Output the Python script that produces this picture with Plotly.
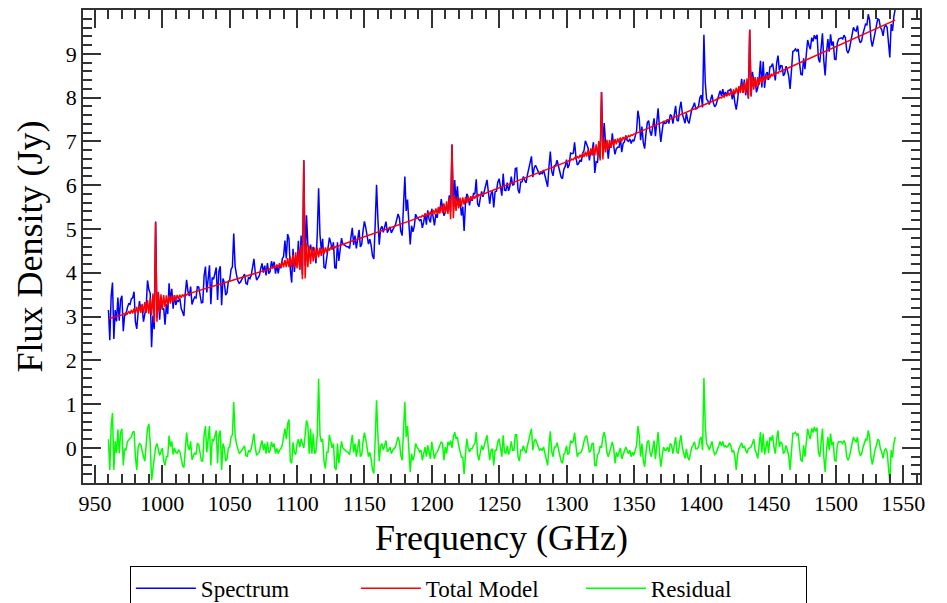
import numpy as np
import plotly.graph_objects as go

# ---------------- data ----------------
# Residual (Jy), sampled every 1 GHz, in four consecutive segments
res_start = [960, 1106, 1254, 1403]
res_seg1 = [
    0.2, -0.5, 0.5, 0.8, -0.5, 0.15, -0.12, 0.42, -0.12, 0.35,
    0.44, -0.4, -0.02, -0.05, 0.14, 0.17, 0.21, 0.25, 0.36, 0.38,
    -0.2, -0.5, 0.0, 0.1, 0.08, -0.08, -0.2, -0.3, 0.15, 0.45,
    0.55, 0.1, -0.74, -0.5, -0.15, 0.02, 0.1, -0.05, -0.17, -0.08,
    0.0, -0.3, -0.4, -0.2, -0.2, 0.28, 0.03, 0.15, -0.15, 0.0,
    -0.1, -0.12, -0.05, -0.08, -0.25, -0.4, -0.45, 0.0, 0.35, 0.05,
    -0.05, 0.15, -0.27, -0.18, -0.12, -0.15, 0.1, 0.08, -0.1, -0.3,
    -0.3, 0.3, 0.5, -0.1, 0.2, 0.5, -0.4, 0.2, 0.15, 0.3,
    0.4, -0.35, 0.3, 0.4, -0.5, 0.1, 0.0, -0.3, -0.25, 0.0,
    0.02, 0.25, 0.3, 1.05, 0.3, 0.1, -0.05, -0.12, -0.1, -0.05,
    0.02, 0.05, -0.17, -0.2, -0.05, -0.09, -0.02, 0.17, 0.33, 0.0,
    -0.17, -0.13, -0.09, 0.06, 0.17, -0.05, 0.1, -0.13, 0.14, -0.11,
    -0.06, 0.14, 0.02, 0.1, -0.13, -0.01, -0.13, -0.05, -0.02, 0.06,
    0.25, 0.44, 0.2, 0.55, 0.65, -0.3, -0.35, 0.13, -0.1, -0.15,
    0.1, 0.2, 0.02, 0.21, 0.1, 0.0,
]
res_seg2 = [
    0.29, 0.63, 0.52, -0.13, 0.44, -0.13, 0.33, -0.13, -0.09, 0.3,
    1.58, 0.3, 0.14, 0.2, -0.3, -0.47, -0.1, -0.1, 0.3, 0.1,
    0.0, 0.1, -0.45, -0.5, 0.1, -0.35, -0.1, 0.15, 0.0, -0.02,
    -0.06, -0.09, -0.1, -0.15, 0.1, 0.3, -0.1, 0.1, -0.2, 0.05,
    0.2, -0.2, -0.15, 0.15, 0.35, 0.2, -0.02, -0.2, -0.1, -0.25,
    -0.5, -0.58, 0.2, 1.09, 0.3, -0.3, 0.05, 0.1, -0.05, 0.06,
    0.17, -0.09, -0.05, 0.02, -0.13, -0.05, -0.02, 0.02, 0.14, 0.25,
    0.14, -0.17, -0.28, 0.5, 1.05, 0.25, 0.5, -0.05, -0.55, -0.13,
    -0.28, -0.17, 0.1, 0.02, -0.02, -0.09, -0.05, -0.28, -0.13, 0.02,
    -0.2, 0.06, -0.09, -0.25, 0.14, -0.13, -0.25, -0.13, -0.09, -0.02,
    0.06, 0.14, 0.1, -0.28, 0.02, -0.13, 0.14, 0.06, 0.17, 0.0,
    0.25, 0.36, 0.21, 0.25, 0.06, -0.09, -0.21, -0.21, -0.6, -0.15,
    0.21, 0.0, -0.09, -0.02, -0.02, 0.06, 0.1, 0.36, -0.15, -0.28,
    -0.05, 0.06, -0.05, 0.06, 0.14, 0.29, 0.0, -0.28, -0.05, -0.02,
    -0.4, -0.05, -0.05, 0.14, 0.21, -0.05, -0.2, 0.29,
]
res_seg3 = [
    -0.1, -0.12, 0.05, -0.15, -0.05, 0.15, -0.05, -0.05, 0.3, 0.3,
    -0.2, -0.3, -0.05, -0.06, 0.05, -0.05, -0.12, 0.05, 0.2, 0.3,
    0.44, -0.05, 0.15, 0.2, 0.1, 0.02, -0.05, -0.02, -0.05, 0.02,
    -0.1, -0.25, -0.4, 0.05, 0.38, -0.08, -0.2, 0.02, 0.02, 0.12,
    -0.05, -0.17, -0.3, -0.35, -0.15, -0.1, 0.05, -0.15, -0.1, 0.17,
    0.12, 0.15, 0.35, 0.05, -0.2, -0.12, -0.12, -0.09, 0.0, 0.15,
    0.25, 0.28, 0.05, -0.1, -0.05, 0.1, 0.1, -0.4, -0.4, -0.15,
    -0.12, 0.05, 0.0, 0.25, 0.36, 0.2, -0.1, -0.2, -0.1, 0.0,
    0.14, 0.0, -0.35, -0.1, -0.2, -0.1, 0.0, -0.25, -0.15, -0.05,
    0.02, -0.05, -0.13, -0.05, -0.2, -0.1, -0.17, -0.05, 0.05, 0.5,
    0.3, -0.2, 0.1, -0.28, -0.43, -0.1, 0.14, 0.17, -0.09, -0.2,
    -0.02, 0.17, -0.25, 0.14, 0.36, -0.09, -0.43, -0.2, 0.02, -0.05,
    -0.05, 0.02, -0.09, 0.1, 0.06, -0.13, 0.06, 0.25, -0.09, -0.13,
    0.14, 0.29, 0.0, -0.13, -0.24, -0.02, -0.21, -0.28, -0.09, 0.02,
    0.06, 0.14, -0.02, -0.02, 0.02, 0.2, 0.25, -0.05, 1.6,
]
res_seg4 = [
    0.5, 0.1, 0.05, -0.05, 0.05, 0.15, -0.05, -0.15, -0.12, -0.05,
    0.05, 0.15, 0.05, 0.15, 0.02, 0.05, 0.02, 0.05, 0.12, 0.05,
    -0.1, -0.05, -0.2, -0.5, -0.15, -0.02, 0.05, 0.12, 0.0, 0.05,
    -0.05, -0.12, -0.02, 0.0, 0.02, 0.1, 0.2, -0.05, -0.12, -0.24,
    0.15, 0.36, -0.1, 0.33, -0.15, 0.02, 0.17, -0.12, 0.25, 0.17,
    0.29, 0.02, -0.13, 0.21, 0.4, 0.02, 0.14, 0.1, -0.13, -0.09,
    0.06, -0.05, -0.2, -0.5, -0.1, 0.33, 0.33, 0.36, 0.29, 0.33,
    0.0, -0.28, -0.3, 0.06, -0.2, 0.13, 0.44, 0.3, 0.2, 0.45,
    0.35, 0.48, 0.38, 0.46, -0.1, -0.2, 0.2, 0.44, -0.2, -0.55,
    -0.05, 0.25, -0.05, 0.33, 0.06, 0.14, -0.28, -0.3, 0.06, 0.14,
    0.14, 0.14, 0.1, 0.17, 0.1, -0.2, -0.28, -0.2, -0.05, 0.1,
    0.25, 0.17, 0.14, 0.25, -0.05, -0.17, -0.15, 0.0, 0.1, 0.2,
    0.17, 0.4, 0.25, -0.2, -0.38, -0.2, -0.05, 0.05, 0.2, 0.17,
    -0.02, -0.09, -0.24, -0.05, -0.02, -0.09, -0.45, -0.8, -0.05, -0.22,
    0.1, 0.25,
]

# Continuum of the total model (GHz, Jy)
cont_freq = [960, 1000, 1040, 1080, 1120, 1160, 1200, 1240, 1280, 1320,
             1360, 1400, 1440, 1480, 1520, 1544]
cont_flux = [2.95, 3.33, 3.72, 4.10, 4.50, 4.93, 5.37, 5.82, 6.29, 6.78,
             7.29, 7.81, 8.34, 8.89, 9.45, 9.77]

# Fitted lines: centre (GHz) and peak of the model (Jy)
line_freq = [995, 1105, 1215, 1326, 1436]
line_peak = [5.15, 6.57, 6.93, 8.13, 9.55]

# Normalised sinc-like line profile (offsets -25 ... +25 GHz, 1 GHz steps)
ring_profile = [
    -0.004, 0.006, -0.008, 0.010, -0.013, 0.016, -0.019, 0.022, -0.026, 0.030,
    -0.034, 0.038, -0.042, 0.046, -0.050, 0.055, -0.060, 0.066, -0.072, 0.080,
    -0.090, 0.100, -0.115, 0.140, -0.220,
    1.000,
    -0.220, 0.140, -0.115, 0.100, -0.090, 0.080, -0.072, 0.066, -0.060, 0.055,
    -0.050, 0.046, -0.042, 0.038, -0.034, 0.030, -0.026, 0.022, -0.019, 0.016,
    -0.013, 0.010, -0.008, 0.006, -0.004,
]

x_ticks = [950, 1000, 1050, 1100, 1150, 1200, 1250, 1300, 1350, 1400, 1450, 1500, 1550]
y_ticks = [0, 1, 2, 3, 4, 5, 6, 7, 8, 9]

# ---------------- assemble series ----------------
freq, residual = [], []
for s, seg in zip(res_start, [res_seg1, res_seg2, res_seg3, res_seg4]):
    freq += [s + i for i in range(len(seg))]
    residual += seg
freq = np.array(freq, dtype=float)
residual = np.array(residual, dtype=float)

model = np.interp(freq, cont_freq, cont_flux)
half = len(ring_profile) // 2
for f0, pk in zip(line_freq, line_peak):
    amp = pk - np.interp(f0, cont_freq, cont_flux)
    for j, p in enumerate(ring_profile):
        model[freq == f0 + j - half] += amp * p
spectrum = model + residual

SERIF = "Liberation Serif"
AX = "#333333"

fig = go.Figure()
fig.add_trace(go.Scatter(x=freq, y=spectrum, mode="lines", name="Spectrum",
                         line=dict(color="#0000ff", width=1.5)))
fig.add_trace(go.Scatter(x=freq, y=model, mode="lines", name="Total Model",
                         line=dict(color="#ff0000", width=1.5)))
fig.add_trace(go.Scatter(x=freq, y=residual, mode="lines", name="Residual",
                         line=dict(color="#00ff00", width=1.5)))

common = dict(showline=True, linecolor=AX, linewidth=1.5, mirror="ticks",
              ticks="inside", ticklen=18, tickwidth=1.5, tickcolor=AX,
              showgrid=False, zeroline=False,
              tickfont=dict(family=SERIF, size=22, color="black"))

fig.update_xaxes(range=[941.1, 1562.4], tickmode="array", tickvals=x_ticks,
                 ticktext=[str(v) for v in x_ticks],
                 minor=dict(dtick=10, tick0=950, ticklen=9, tickwidth=1.5,
                            tickcolor=AX, ticks="inside", showgrid=False),
                 title=dict(text="Frequency (GHz)",
                            font=dict(family=SERIF, size=36, color="black"),
                            standoff=10),
                 **common)
fig.update_yaxes(range=[-0.8, 10.0], tickmode="array", tickvals=y_ticks,
                 ticktext=[str(v) for v in y_ticks],
                 minor=dict(dtick=0.2, tick0=0, ticklen=9, tickwidth=1.5,
                            tickcolor=AX, ticks="inside", showgrid=False),
                 title=dict(text="Flux Density (Jy)",
                            font=dict(family=SERIF, size=36, color="black"),
                            standoff=12),
                 **common)

fig.update_layout(
    width=947, height=603,
    font=dict(family=SERIF, color="black"),
    margin=dict(l=83, r=27, t=10, b=120, autoexpand=False),
    paper_bgcolor="white", plot_bgcolor="white",
    showlegend=True,
    legend=dict(orientation="h", x=0.056, xanchor="left", y=-0.175, yanchor="top",
                bordercolor="black", borderwidth=1, bgcolor="white",
                font=dict(family=SERIF, size=23, color="black"),
                entrywidth=150, entrywidthmode="pixels", itemwidth=60,
                traceorder="normal"),
)

fig.write_html("out.html")
